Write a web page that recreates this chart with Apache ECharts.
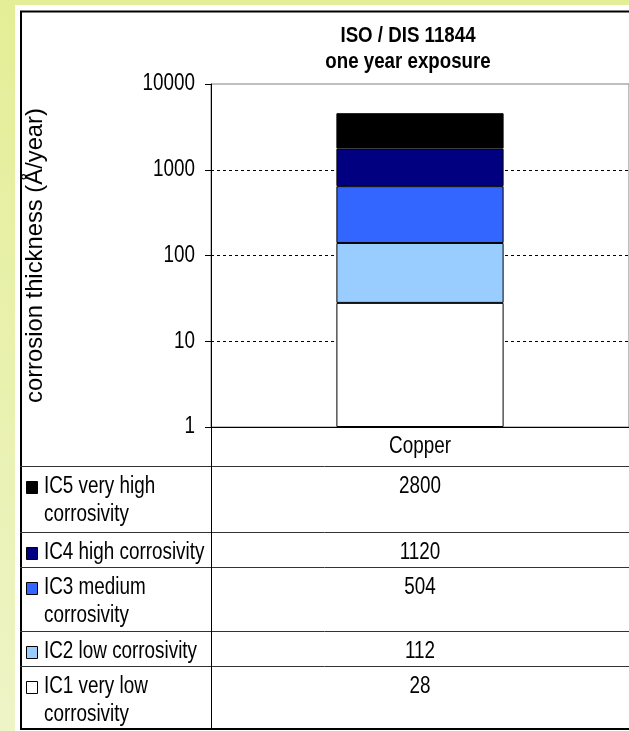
<!DOCTYPE html>
<html>
<head>
<meta charset="utf-8">
<title>ISO / DIS 11844 one year exposure</title>
<script src="https://cdn.jsdelivr.net/npm/echarts@6/dist/echarts.min.js"></script>
<style>
  html, body { margin: 0; padding: 0; width: 629px; height: 731px; overflow: hidden; }
  body { background: linear-gradient(to bottom, #e4ee96, #eef4c6); position: relative; }
  #panel { position: absolute; left: 15px; top: 5px; right: 0; bottom: 0; background: #ffffff; }
  #main { position: absolute; left: 0; top: 0; width: 629px; height: 731px; }
</style>
</head>
<body>
<div id="panel"></div>
<div id="main"></div>
<script>
// Corrosion classes for copper, one year exposure (Å/year)
const categories = ['Copper'];
const seriesNames = [
  'IC1 very low corrosivity',
  'IC2 low corrosivity',
  'IC3 medium corrosivity',
  'IC4 high corrosivity',
  'IC5 very high corrosivity'
];
const seriesValues = [[28], [112], [504], [1120], [2800]];
const seriesColors = ['#ffffff', '#99ccff', '#3366ff', '#000080', '#000000'];
const yTickValues = [1, 10, 100, 1000, 10000];
const titleLines = ['ISO / DIS 11844', 'one year exposure'];
const yAxisName = 'corrosion thickness (Å/year)';

const font = "'Liberation Sans', Arial, sans-serif";
// condensed look for the horizontal labels
const squeeze = 0.82;
const titleSqueeze = 0.85;

// Row separators of the data table, top to bottom (IC5 row first)
const rowEdges = [466, 532, 567, 631, 666, 729];

const chart = echarts.init(document.getElementById('main'), null, { renderer: 'canvas' });

chart.setOption({
  animation: false,
  backgroundColor: 'transparent',
  textStyle: { fontFamily: font, color: '#000' },
  grid: {
    left: 211, top: 84, right: -2, bottom: 304,
    show: true, borderColor: '#808080', borderWidth: 1, backgroundColor: 'transparent'
  },
  xAxis: {
    type: 'category',
    data: categories,
    axisLine: { lineStyle: { color: '#000', width: 1 } },
    axisTick: { show: false },
    axisLabel: { show: false },
    splitLine: { show: false }
  },
  yAxis: {
    type: 'log',
    logBase: 10,
    min: yTickValues[0],
    max: yTickValues[yTickValues.length - 1],
    name: yAxisName,
    nameLocation: 'middle',
    nameGap: 164,
    nameRotate: 90,
    nameTextStyle: { fontFamily: font, fontSize: 23.8, color: '#000' },
    axisLine: { show: true, lineStyle: { color: '#000', width: 1 } },
    axisTick: { show: true, length: 6, lineStyle: { color: '#000' } },
    axisLabel: { show: false },
    minorTick: { show: false },
    splitLine: {
      show: true, showMinLine: false, showMaxLine: false,
      lineStyle: { color: '#000', width: 1, type: [3, 3] }
    }
  },
  series: seriesNames.map((name, i) => ({
    type: 'bar',
    name: name,
    stack: 'total',
    data: seriesValues[i],
    barWidth: '40%',
    itemStyle: { color: seriesColors[i], borderColor: '#000', borderWidth: 1 }
  }))
});

const barCenterX = chart.convertToPixel({ xAxisIndex: 0 }, categories[0]);
const graphics = [];

function label(text, x, y, opts) {
  return {
    type: 'text',
    x: x,
    y: y,
    scaleX: squeeze,
    silent: true,
    style: Object.assign({
      text: text,
      fontFamily: font,
      fontSize: 23,
      lineHeight: 27.5,
      fill: '#000',
      textAlign: 'left',
      textVerticalAlign: 'top'
    }, opts || {})
  };
}

// chart title
graphics.push(Object.assign(label(titleLines.join('\n'), 408, 22.5, {
  fontSize: 22, fontWeight: 'bold', lineHeight: 26, textAlign: 'center'
}), { scaleX: titleSqueeze }));

// value axis tick labels, placed on the log scale
yTickValues.forEach(v => {
  const y = chart.convertToPixel({ yAxisIndex: 0 }, v);
  graphics.push(label(String(v), 195, y, { textAlign: 'right', textVerticalAlign: 'middle' }));
});

// outer frame
graphics.push({
  type: 'rect',
  shape: { x: 21, y: 11.5, width: 700, height: 717.5 },
  style: { fill: null, stroke: '#000', lineWidth: 2 },
  silent: true
});
// table horizontal rules
rowEdges.slice(0, -1).forEach(y => {
  graphics.push({
    type: 'line',
    shape: { x1: 20, y1: y + 0.5, x2: 629, y2: y + 0.5 },
    style: { stroke: '#333', lineWidth: 1 },
    silent: true
  });
});
// column rule below the axis
graphics.push({
  type: 'line',
  shape: { x1: 211.5, y1: 427, x2: 211.5, y2: 730 },
  style: { stroke: '#000', lineWidth: 1 },
  silent: true
});

// table header: category name under the bar
graphics.push(label(categories[0], barCenterX, 447, { textAlign: 'center', textVerticalAlign: 'middle' }));

// rows: highest class first
for (let r = 0; r < seriesNames.length; r++) {
  const s = seriesNames.length - 1 - r;
  const top = rowEdges[r];
  graphics.push({
    type: 'rect',
    shape: { x: 26.5, y: top + 15.5, width: 11, height: 12 },
    style: { fill: seriesColors[s], stroke: '#000', lineWidth: 1 },
    silent: true
  });
  graphics.push(label(seriesNames[s], 44, top + 7, { width: 200, overflow: 'break' }));
  graphics.push(label(String(seriesValues[s][0]), barCenterX, top + 7, { textAlign: 'center' }));
}

chart.setOption({ graphic: graphics });
</script>
</body>
</html>
